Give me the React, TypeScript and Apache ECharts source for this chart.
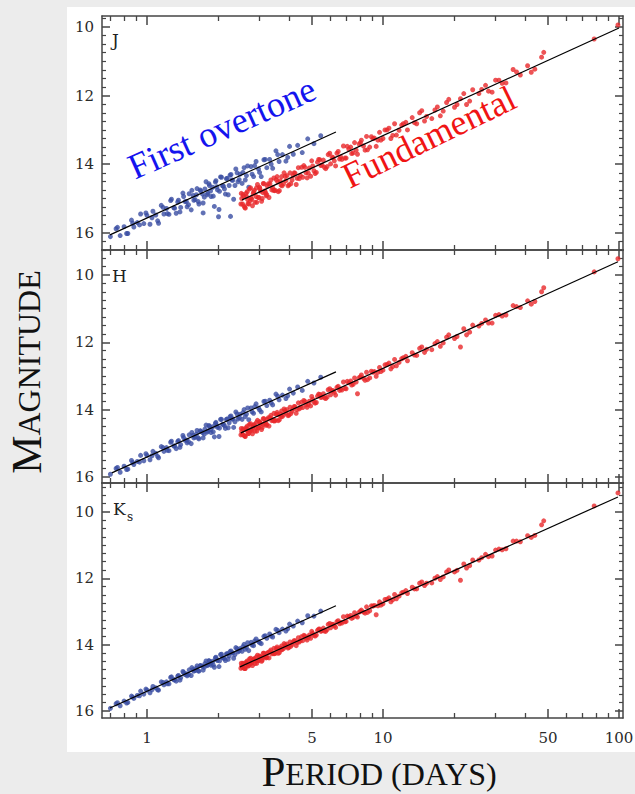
import React, { useEffect, useRef } from "react";
import * as echarts from "echarts";

// ---------------- data ----------------
// First-overtone Cepheids: periods (days) and magnitudes in J, H, Ks
const foPeriod = [0.70,0.74,0.77,0.80,0.83,0.86,0.88,0.91,0.94,0.97,1.00,1.03,1.06,1.09,1.12,1.15,1.18,1.21,1.24,1.27,1.30,1.33,1.36,1.39,1.42,1.45,1.48,1.51,1.54,1.57,1.60,1.63,1.66,1.69,1.72,1.75,1.78,1.81,1.84,1.87,1.90,1.93,1.96,1.99,2.02,2.05,2.09,2.13,2.17,2.21,2.25,2.29,2.33,2.38,2.43,2.48,2.53,2.58,2.64,2.70,2.76,2.83,2.90,2.97,3.05,3.13,3.22,3.31,3.41,3.52,3.63,3.75,3.88,4.02,4.17,4.35,4.55,4.80,5.10,5.45];
const foMagJ = [16.11,15.88,16.08,15.82,16.02,15.63,15.83,15.70,15.45,15.73,
15.49,15.75,15.37,15.48,15.72,15.20,15.45,15.29,15.46,15.02,
15.27,15.43,15.05,15.26,14.84,15.09,15.24,14.86,15.33,14.91,
15.03,14.71,15.16,14.78,14.87,14.96,14.51,14.85,14.62,14.94,
14.67,15.23,14.48,14.75,15.32,14.37,14.63,14.72,14.42,14.89,
14.32,14.46,15.02,14.14,14.51,14.29,14.56,14.10,14.33,14.67,
14.07,14.36,13.92,14.14,14.36,13.87,14.10,13.86,14.12,13.61,
13.92,13.72,13.91,13.48,13.71,13.45,13.66,13.26,13.40,13.17];
const foMagH = [15.92,15.75,15.86,15.68,15.77,15.51,15.63,15.54,15.36,15.52,
15.36,15.49,15.24,15.30,15.43,15.10,15.24,15.13,15.22,14.94,
15.08,15.16,14.92,15.04,14.77,14.91,14.99,14.75,15.01,14.76,
14.82,14.62,14.87,14.64,14.68,14.73,14.46,14.64,14.50,14.68,
14.51,14.81,14.38,14.53,14.80,14.29,14.44,14.48,14.29,14.54,
14.21,14.28,14.53,14.07,14.28,14.14,14.29,14.00,14.13,14.30,
13.95,14.11,13.83,13.95,14.07,13.76,13.88,13.72,13.86,13.54,
13.71,13.57,13.67,13.39,13.51,13.33,13.43,13.16,13.21,13.04];
const foMagK = [15.92,15.78,15.84,15.70,15.74,15.55,15.62,15.53,15.40,15.49,
15.37,15.45,15.26,15.30,15.37,15.12,15.21,15.12,15.18,14.97,
15.06,15.10,14.93,15.00,14.81,14.90,14.94,14.76,14.93,14.75,
14.78,14.64,14.80,14.63,14.65,14.68,14.49,14.61,14.50,14.62,
14.50,14.68,14.38,14.48,14.66,14.30,14.40,14.42,14.28,14.44,
14.21,14.25,14.41,14.09,14.22,14.12,14.20,13.99,14.08,14.18,
13.93,14.03,13.83,13.90,13.97,13.75,13.81,13.68,13.77,13.54,
13.64,13.53,13.59,13.38,13.44,13.29,13.34,13.13,13.14,12.99];
const foPeriod2 = [0.75,0.82,0.87,0.93,0.99,1.05,1.11,1.17,1.22,1.26,
1.31,1.35,1.38,1.43,1.47,1.50,1.55,1.58,1.62,1.65,
1.68,1.73,1.76,1.80,1.83,1.86,1.91,1.95,1.98,2.03,
2.07,2.11,2.15,2.19,2.23,2.27,2.31,2.36,2.41,2.46,
2.55,2.61,2.67,2.79,2.86,3.00,3.17,3.36,3.58,3.95];
const foMagJ2 = [15.84,16.02,15.72,15.77,15.42,15.56,15.65,15.26,15.44,15.06,
15.28,15.10,15.39,14.94,15.09,15.18,14.76,15.05,14.89,15.09,
14.75,15.13,14.72,14.89,14.57,14.78,14.93,14.52,14.66,14.79,
14.38,14.64,14.87,14.41,14.62,14.30,14.47,14.62,14.25,14.45,
14.24,14.46,14.05,14.29,14.04,14.24,13.86,14.00,13.72,13.80];
const foMagH2 = [15.72,15.78,15.57,15.56,15.31,15.37,15.39,15.13,15.21,14.97,
15.08,14.95,15.12,14.83,14.90,14.95,14.68,14.84,14.73,14.84,
14.63,14.84,14.58,14.67,14.47,14.59,14.66,14.41,14.48,14.55,
14.29,14.44,14.56,14.28,14.39,14.19,14.28,14.36,14.13,14.24,
14.09,14.21,13.95,14.07,13.91,14.01,13.75,13.80,13.60,13.59];
const foMagK2 = [15.75,15.76,15.58,15.54,15.34,15.36,15.36,15.14,15.18,14.99,
15.06,14.95,15.07,14.84,14.88,14.90,14.69,14.80,14.71,14.79,
14.63,14.77,14.57,14.63,14.48,14.56,14.61,14.40,14.45,14.49,
14.29,14.40,14.48,14.27,14.34,14.19,14.25,14.30,14.12,14.19,
14.06,14.14,13.94,14.01,13.89,13.94,13.73,13.74,13.57,13.52];
const foExtraJ = [[1.73, 15.42], [2.01, 15.53], [2.26, 15.52]];

// Fundamental-mode Cepheids
const fuPeriod = [2.50,2.55,2.60,2.64,2.68,2.72,2.76,2.80,2.85,2.90,
2.94,2.98,3.03,3.08,3.13,3.18,3.23,3.29,3.35,3.41,
3.47,3.53,3.60,3.67,3.74,3.81,3.88,3.96,4.04,4.12,
4.20,4.29,4.38,4.47,4.57,4.67,4.77,4.88,4.99,5.10,
5.22,5.34,5.46,5.59,5.72,5.86,6.00,6.15,6.30,6.46,
6.62,6.80,6.98,7.17,7.37,7.58,7.80,8.03,8.27,8.52,
8.79,9.07,9.36,9.67,10.0,10.4,10.8,11.2,11.7,12.2,
12.7,13.3,13.9,14.6,15.3,16.1,17.0,18.0,19.0,20.1,
21.3,22.6,24.0,25.5,27.2,29.0,31.0,33.2,35.6,38.2,
41.0,44.0,47.0,48.0,78.5,99.0,
2.52,2.58,2.66,2.74,2.83,2.92,3.00,3.10,3.20,3.32,
3.44,3.56,3.70,3.85,4.00,4.16,4.33,4.52,4.72,4.94,
5.28,5.65,6.08,6.55];
const fuMagJ = [15.16,14.88,15.26,14.94,15.15,14.72,14.98,15.21,14.76,14.94,
14.59,14.97,14.78,15.00,14.57,14.83,14.63,14.97,14.46,14.68,
14.77,14.45,14.80,14.48,14.63,14.25,14.48,14.63,14.25,14.46,
14.25,14.59,14.10,14.33,14.38,14.09,14.40,14.11,13.90,14.19,
14.24,13.86,14.04,13.88,14.13,13.72,13.99,13.81,14.05,13.63,
13.79,13.47,13.82,13.56,13.69,13.37,13.71,13.37,13.47,13.19,
13.50,13.25,13.48,13.07,13.25,13.00,13.25,12.82,13.01,12.82,
13.00,12.64,12.82,12.44,12.61,12.67,12.33,12.45,12.11,12.34,
12.09,12.26,11.83,11.94,11.70,11.90,11.55,11.63,11.24,11.40,
11.13,11.23,10.88,10.74,10.35,9.94,
15.00,15.22,14.80,15.06,14.81,15.11,14.67,14.83,14.92,14.57,
14.76,14.36,14.61,14.35,14.60,14.33,14.41,14.09,14.25,14.35,
13.94,14.09,13.79,13.85];
const fuMagH = [14.75,14.57,14.79,14.58,14.71,14.44,14.58,14.72,14.44,14.54,
14.32,14.54,14.42,14.53,14.27,14.42,14.29,14.49,14.17,14.29,
14.34,14.14,14.33,14.13,14.21,13.98,14.10,14.18,13.93,14.05,
13.91,14.11,13.80,13.93,13.94,13.76,13.93,13.75,13.61,13.77,
13.79,13.54,13.64,13.53,13.67,13.41,13.56,13.44,13.57,13.31,
13.39,13.18,13.38,13.20,13.27,13.06,13.53,13.03,13.07,12.89,
13.06,12.89,13.01,12.75,12.83,12.66,12.79,12.51,12.60,12.46,
12.55,12.31,12.39,12.14,12.21,12.22,11.98,12.02,11.78,11.89,
12.14,11.78,11.49,11.52,11.34,11.43,11.18,11.19,10.91,10.97,
10.77,10.79,10.50,10.38,9.91,9.52,
14.65,14.77,14.49,14.63,14.47,14.64,14.36,14.44,14.47,14.24,
14.33,14.08,14.21,14.03,14.16,13.98,14.00,13.78,13.86,13.89,
13.60,13.65,13.43,13.43];
const fuMagK = [14.71,14.56,14.72,14.56,14.64,14.43,14.54,14.63,14.42,14.49,
14.32,14.48,14.38,14.47,14.26,14.37,14.26,14.40,14.16,14.25,
14.27,14.12,14.26,14.10,14.15,13.97,14.06,14.10,13.92,14.00,
13.88,14.03,13.79,13.88,13.88,13.74,13.86,13.71,13.60,13.72,
13.71,13.53,13.60,13.50,13.60,13.39,13.49,13.39,13.48,13.28,
13.33,13.16,13.30,13.16,13.21,13.04,13.17,12.99,13.02,12.86,
12.98,12.84,13.10,12.71,12.77,12.63,12.71,12.49,12.54,12.42,
12.46,12.27,12.32,12.11,12.15,12.14,11.95,11.96,11.75,11.81,
12.06,11.69,11.45,11.45,11.28,11.33,11.12,11.11,10.88,10.90,
10.72,10.71,10.39,10.27,9.82,9.43,
14.63,14.71,14.49,14.58,14.44,14.56,14.34,14.39,14.40,14.21,
14.27,14.07,14.16,14.01,14.08,13.93,13.94,13.76,13.80,13.81,
13.57,13.59,13.39,13.37];
const fuPeriod2 = [2.51,2.54,2.57,2.61,2.63,2.67,2.70,2.75,2.78,2.82,
2.87,2.91,2.96,3.01,3.06,3.11,3.16,3.22,3.27,3.38,
3.45,3.50,3.58,3.64,3.72,3.79,3.92,4.07,4.24,4.42,
4.62,4.83,5.04,5.16,5.40,5.52,5.80,5.95,6.22,6.38,
6.70,7.06,7.48,7.93,8.40,8.93,9.52,10.2,11.0,12.0];
const fuMagJ2 = [14.85,15.16,14.94,15.28,14.85,15.03,15.16,14.69,15.02,14.86,
15.11,14.69,14.97,14.71,15.08,14.56,14.78,14.89,14.57,14.75,
14.40,14.76,14.51,14.77,14.36,14.57,14.33,14.57,14.26,14.42,
14.04,14.26,14.05,14.27,13.87,14.02,14.07,13.68,13.90,13.68,
13.86,13.48,13.67,13.41,13.59,13.20,13.30,13.00,13.16,12.86];
const fuMagH2 = [14.56,14.74,14.60,14.80,14.54,14.64,14.71,14.42,14.61,14.51,
14.64,14.38,14.54,14.38,14.59,14.27,14.38,14.44,14.24,14.33,
14.11,14.32,14.15,14.30,14.04,14.16,14.00,14.12,13.91,13.98,
13.73,13.84,13.69,13.81,13.55,13.62,13.63,13.38,13.49,13.34,
13.42,13.16,13.25,13.05,13.13,12.86,12.89,12.67,12.72,12.49];
const fuMagK2 = [14.56,14.69,14.58,14.72,14.53,14.59,14.64,14.41,14.55,14.47,
14.57,14.37,14.48,14.36,14.50,14.26,14.35,14.38,14.23,14.28,
14.11,14.26,14.13,14.24,14.04,14.12,13.98,14.05,13.88,13.92,
13.72,13.78,13.66,13.74,13.53,13.58,13.55,13.36,13.43,13.31,
13.35,13.14,13.18,13.02,13.05,12.83,12.83,12.64,12.65,12.44];
const fuPeriod3 = [6.9,7.3,7.7,8.1,8.6,9.2,9.8,10.6,11.4,12.5,
13.6,14.3,15.0,16.6,17.5,18.6,20.6,22.0,23.3,26.2,
28.0,30.0,32.0,36.8,42.5];
const fuMagJ3 = [13.82,13.50,13.59,13.30,13.58,13.24,13.30,12.95,13.15,12.78,
12.79,12.50,12.74,12.42,12.59,12.20,12.26,11.94,12.16,11.82,
11.87,11.55,11.64,11.31,11.32];
const fuMagH3 = [13.37,13.15,13.18,12.97,13.11,12.87,12.87,12.62,12.70,12.42,
12.38,12.18,12.30,12.04,12.12,11.85,11.83,11.60,11.70,11.44,
11.43,11.20,11.22,10.94,10.87];
const fuMagK3 = [13.31,13.12,13.13,12.96,13.03,12.82,12.81,12.59,12.62,12.37,
12.32,12.15,12.22,12.00,12.04,11.81,11.76,11.57,11.62,11.38,
11.35,11.15,11.14,10.88,10.77];

// fitted period-luminosity lines (end points)
const foLineJ = [[0.697, 16.06], [6.32, 13.06]];
const fuLineJ = [[2.53, 15.04], [100, 10.03]];
const foLineH = [[0.71, 15.88], [6.32, 12.88]];
const fuLineH = [[2.5, 14.69], [99, 9.61]];
const foLineK = [[0.697, 15.91], [6.32, 12.83]];
const fuLineK = [[2.48, 14.67], [99, 9.55]];

// tick values
const xMajorTicks = [1, 5, 10, 50, 100];
const xMinorTicks = [0.7, 0.8, 0.9, 2, 3, 4, 6, 7, 8, 9, 20, 30, 40, 60, 70, 80, 90];
const yMajorTicks = [10, 12, 14, 16];
const yMinorTicks = [9.25, 9.5, 9.75, 10.25, 10.5, 10.75, 11, 11.25, 11.5, 11.75, 12.25, 12.5, 12.75, 13, 13.25, 13.5, 13.75, 14.25, 14.5, 14.75, 15, 15.25, 15.5, 15.75, 16.25, 16.5];

// ---------------- layout / style ----------------
const X_MIN = 0.645;
const X_MAX = 104;
const PANELS = [
  { top: 16, height: 234, min: 9.68, max: 16.5 },
  { top: 250, height: 233, min: 9.26, max: 16.18 },
  { top: 483, height: 235, min: 9.13, max: 16.21 },
];
const AX = "#454545";
const BLUE = "#3a4da3";
const RED = "#e8282a";
const TICK_FONT = { fontFamily: "DejaVu Serif", fontSize: 15, color: "#2a2a2a" };

const bands = [
  { fo: foMagJ, fo2: foMagJ2, fu: fuMagJ, fu2: fuMagJ2, fu3: fuMagJ3, foExtra: foExtraJ, foLine: foLineJ, fuLine: fuLineJ },
  { fo: foMagH, fo2: foMagH2, fu: fuMagH, fu2: fuMagH2, fu3: fuMagH3, foExtra: [], foLine: foLineH, fuLine: fuLineH },
  { fo: foMagK, fo2: foMagK2, fu: fuMagK, fu2: fuMagK2, fu3: fuMagK3, foExtra: [], foLine: foLineK, fuLine: fuLineK },
];

function buildOption() {
  const grid: any[] = [];
  const xAxis: any[] = [];
  const yAxis: any[] = [];
  const series: any[] = [];

  PANELS.forEach((p, i) => {
    grid.push({ left: 102, right: 12, top: p.top, height: p.height, containLabel: false, outerBoundsMode: "none" });

    const xc = {
      type: "log", logBase: 10, min: X_MIN, max: X_MAX, gridIndex: i,
      splitLine: { show: false }, minorTick: { show: false }, minorSplitLine: { show: false },
    };
    ["bottom", "top"].forEach((pos) => {
      xAxis.push({
        ...xc, position: pos,
        axisLine: { show: true, onZero: false, lineStyle: { color: AX, width: 1.5 } },
        axisTick: { show: true, inside: true, length: 9, customValues: xMajorTicks, lineStyle: { color: AX, width: 1.5 } },
        axisLabel: {
          show: pos === "bottom" && i === 2, customValues: xMajorTicks, margin: 12,
          formatter: (v: number) => String(Math.round(v * 100) / 100), ...TICK_FONT,
        },
      });
      xAxis.push({
        ...xc, position: pos,
        axisLine: { show: false, onZero: false },
        axisTick: { show: true, inside: true, length: 5, customValues: xMinorTicks, lineStyle: { color: AX, width: 1.3 } },
        axisLabel: { show: false },
      });
    });

    const yc = {
      type: "value", inverse: true, min: p.min, max: p.max, gridIndex: i,
      splitLine: { show: false }, minorTick: { show: false },
    };
    ["left", "right"].forEach((pos) => {
      yAxis.push({
        ...yc, position: pos,
        axisLine: { show: true, onZero: false, lineStyle: { color: AX, width: 1.5 } },
        axisTick: { show: true, inside: true, length: 8, customValues: yMajorTicks, lineStyle: { color: AX, width: 1.5 } },
        axisLabel: {
          show: pos === "left", customValues: yMajorTicks, margin: 8,
          formatter: (v: number) => String(Math.round(v)), ...TICK_FONT,
        },
      });
      yAxis.push({
        ...yc, position: pos,
        axisLine: { show: false, onZero: false },
        axisTick: { show: true, inside: true, length: 4, customValues: yMinorTicks, lineStyle: { color: AX, width: 1.2 } },
        axisLabel: { show: false },
      });
    });

    const b = bands[i];
    const xi = 4 * i;
    const yi = 4 * i;
    series.push({
      type: "scatter", xAxisIndex: xi, yAxisIndex: yi, symbol: "circle", symbolSize: 5,
      itemStyle: { color: BLUE }, z: 2,
      data: foPeriod.map((x, k) => [x, b.fo[k]])
        .concat(foPeriod2.map((x, k) => [x, b.fo2[k]]))
        .concat(b.foExtra),
    });
    series.push({
      type: "scatter", xAxisIndex: xi, yAxisIndex: yi, symbol: "circle", symbolSize: 5,
      itemStyle: { color: RED }, z: 2,
      data: fuPeriod.map((x, k) => [x, b.fu[k]])
        .concat(fuPeriod2.map((x, k) => [x, b.fu2[k]]))
        .concat(fuPeriod3.map((x, k) => [x, b.fu3[k]])),
    });
    [b.foLine, b.fuLine].forEach((ln) => {
      series.push({
        type: "line", xAxisIndex: xi, yAxisIndex: yi, data: ln, showSymbol: false, symbol: "none",
        lineStyle: { color: "#000", width: 1.2 }, z: 4, silent: true,
      });
    });
  });

  const serif = "Liberation Serif";
  const capsRich = {
    a: { fontFamily: serif, fontSize: 43, fill: "#111", verticalAlign: "bottom", lineHeight: 40 },
    b: { fontFamily: serif, fontSize: 32, fill: "#111", verticalAlign: "bottom", lineHeight: 40, padding: [0, 0, 3, 0] },
  };
  const graphic: any[] = [
    { type: "text", x: 112, y: 40, style: { text: "J", fontFamily: "DejaVu Serif", fontSize: 17, fill: "#222", align: "left", verticalAlign: "middle" } },
    { type: "text", x: 112, y: 276, style: { text: "H", fontFamily: "DejaVu Serif", fontSize: 17, fill: "#222", align: "left", verticalAlign: "middle" } },
    { type: "text", x: 113, y: 509, style: { text: "K", fontFamily: "DejaVu Serif", fontSize: 17, fill: "#222", align: "left", verticalAlign: "middle" } },
    { type: "text", x: 127, y: 517, style: { text: "s", fontFamily: "DejaVu Serif", fontSize: 12, fill: "#222", align: "left", verticalAlign: "middle" } },
    {
      type: "text", x: 222, y: 128, rotation: (24 * Math.PI) / 180,
      style: { text: "First overtone", fontFamily: serif, fontSize: 36, fill: "#1414ee", align: "center", verticalAlign: "middle" },
    },
    {
      type: "text", x: 429, y: 137, rotation: (26 * Math.PI) / 180,
      style: { text: "Fundamental", fontFamily: serif, fontSize: 36, fill: "#f01414", align: "center", verticalAlign: "middle" },
    },
    {
      type: "text", x: 28, y: 372, rotation: Math.PI / 2,
      style: { text: "{a|M}{b|AGNITUDE}", align: "center", verticalAlign: "middle", fill: "#111", rich: capsRich },
    },
    {
      type: "text", x: 379, y: 773,
      style: { text: "{a|P}{b|ERIOD (DAYS)}", align: "center", verticalAlign: "middle", fill: "#111", rich: capsRich },
    },
  ];

  return { animation: false, backgroundColor: "transparent", grid, xAxis, yAxis, series, graphic };
}

export default function App() {
  const ref = useRef<HTMLDivElement>(null);
  useEffect(() => {
    if (!ref.current) return;
    const chart = echarts.init(ref.current, undefined, { renderer: "svg" });
    chart.setOption(buildOption() as any);
    return () => chart.dispose();
  }, []);
  return (
    <div style={{ position: "absolute", left: 0, top: 0, width: 635, height: 794, background: "#ececec", overflow: "hidden" }}>
      <div style={{ position: "absolute", left: 67, top: 7, width: 568, height: 745, background: "#ffffff" }} />
      <div ref={ref} style={{ position: "absolute", left: 0, top: 0, width: 635, height: 794 }} />
    </div>
  );
}
